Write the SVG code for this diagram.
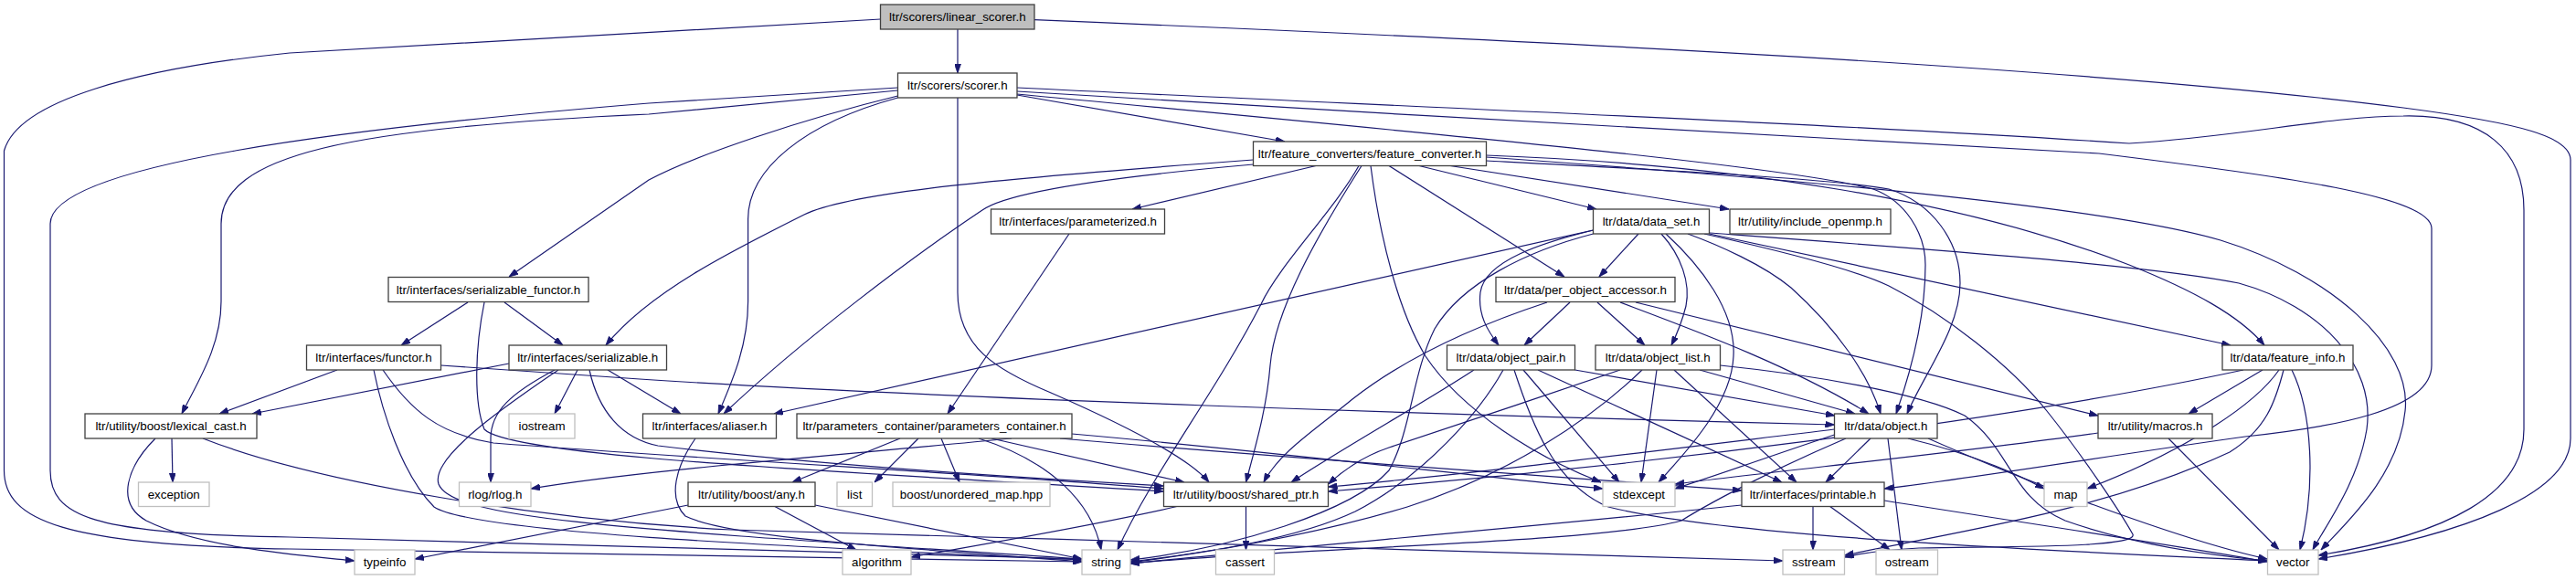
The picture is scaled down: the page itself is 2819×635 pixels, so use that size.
<svg xmlns="http://www.w3.org/2000/svg" width="2819" height="635" viewBox="0 0 2819 635">
<style>
.e path{fill:none;stroke:#191970;stroke-width:1.2;marker-end:url(#ah)}
.n rect{fill:#fff;stroke:#404040;stroke-width:1.3}
.x rect{fill:#fff;stroke:#bfbfbf;stroke-width:1.3}
.r rect{fill:#bfbfbf;stroke:#404040;stroke-width:1.3}
text{font-family:"Liberation Sans",Arial,Helvetica,sans-serif;font-size:13.33px;fill:#000;text-anchor:middle}
</style>
<defs>
<marker id="ah" viewBox="0 0 10 7" refX="10" refY="3.5" markerWidth="10" markerHeight="7" markerUnits="userSpaceOnUse" orient="auto">
<path d="M0,0 L10,3.5 L0,7 z" fill="#191970" stroke="#191970" stroke-width="0.8"/>
</marker>
</defs>
<rect width="2819" height="635" fill="#fff"/>
<g id="connectors" class="e">
<path d="M1048,32 L1048,80"/>
<path d="M963.5,21 L317,58 C150,75 20,110 4.5,165 L4.5,515 C4.5,570 70,597 317,601 L1184,615"/>
<path d="M1132,21.7 C1700,45 2300,75 2630,118 C2760,135 2813,150 2813,175 L2813,480 C2813,540 2700,585 2537,612"/>
<path d="M1113,104 L1406,155"/>
<path d="M982.5,105 C880,130 760,170 710,197 L557,303"/>
<path d="M982.5,99 L710,125 C380,140 242,170 242,245 L242,330 C242,380 215,420 199,453"/>
<path d="M982.5,96 L710,113 C380,140 55,180 55,245 L55,515 C55,565 100,585 317,588 L1184,612"/>
<path d="M982.5,107 C880,135 818.6,185 818.6,240 L818.6,330 C818.6,380 800,420 786,453"/>
<path d="M1048,107 L1048,320 C1048,380 1090,405 1150,430 C1230,465 1300,500 1323,528"/>
<path d="M1113,96 C1500,115 2000,135 2330,157 C2450,150 2550,127 2630,127 C2720,125 2762,165 2762,230 L2762,470 C2762,540 2680,585 2537,608"/>
<path d="M1113,100 C1500,125 2000,150 2297,168 C2500,193 2661,215 2661,250 L2661,400 C2661,450 2550,468 2457,478 C2300,500 2150,525 2062,535"/>
<path d="M1113,103 C1500,140 1950,180 2050,207 C2085,220 2107,255 2107,290 C2107,350 2090,410 2075,453"/>
<path d="M1626.5,176 C1800,185 2000,195 2067,207 C2115,222 2145,265 2145,310 C2145,360 2105,410 2087,453"/>
<path d="M1440,181.5 L1239,229"/>
<path d="M1553,181.5 L1747,229"/>
<path d="M1587,181.5 L1892,229"/>
<path d="M1520,181.5 L1712,303"/>
<path d="M1371.5,175 C1100,195 930,210 880,235 C800,275 710,320 663,378"/>
<path d="M1371.5,180 C1200,195 1100,212 1075,230 C1000,280 880,370 792,453"/>
<path d="M1487,181.5 C1460,230 1400,290 1380,333 C1330,430 1260,520 1223,602"/>
<path d="M1490,181.5 C1440,260 1395,340 1390,400 C1386,450 1372,495 1363.5,528"/>
<path d="M1500,181.5 C1510,260 1530,340 1560,390 C1600,450 1680,500 1752,528"/>
<path d="M1626.5,170 C1900,180 2150,220 2330,290 C2400,318 2450,345 2478,378"/>
<path d="M1626.5,172 C1950,195 2300,225 2430,263 C2550,300 2640,380 2632,450 C2625,520 2570,570 2540,602"/>
<path d="M1170,256 L1037,453"/>
<path d="M1793,256 L1750,303"/>
<path d="M1743.5,252 C1690,265 1625,285 1620,320 C1617,345 1628,362 1640,378"/>
<path d="M1743.5,256 C1670,275 1600,310 1570,360 C1545,410 1545,470 1520,515 C1480,560 1350,600 1237,613"/>
<path d="M1818,256 C1840,280 1850,310 1845,335 C1840,355 1833,370 1829,378"/>
<path d="M1823,256 C1860,290 1900,340 1897,390 C1895,440 1850,490 1815,528"/>
<path d="M1847,256 C1880,268 1930,290 1960,315 C2010,360 2045,410 2058,453"/>
<path d="M1743.5,252 L847,453"/>
<path d="M1870.5,256 L2441,378"/>
<path d="M1870.5,255 C2100,272 2350,290 2450,310 C2540,335 2600,400 2590,470 C2580,530 2545,575 2531,602"/>
<path d="M1865,256 C1950,275 2030,295 2067,313 C2130,345 2200,400 2240,450 C2280,500 2320,560 2334,585 C2340,600 2200,598 2100,600 C2060,602 2040,605 2018.5,610"/>
<path d="M1693,331 C1620,355 1540,390 1480,437 C1440,470 1400,495 1383,528"/>
<path d="M1718,331 L1668,378"/>
<path d="M1748,331 L1800,378"/>
<path d="M1773,331 C1850,360 1960,400 2045,453"/>
<path d="M1790,331 L2296,455"/>
<path d="M1613,405 C1560,440 1470,490 1413,528"/>
<path d="M1645,405 C1620,450 1560,520 1483,560 C1420,590 1320,605 1237,615"/>
<path d="M1657,405 C1675,460 1700,530 1760,555 C1900,590 2300,605 2481,614"/>
<path d="M1667,405 L1772,528"/>
<path d="M1683,405 L1950,528"/>
<path d="M1723.5,405 L2008,455"/>
<path d="M1773,405 C1700,430 1580,470 1520,490 C1490,500 1470,515 1453.5,530"/>
<path d="M1797,405 C1740,460 1650,520 1540,555 C1440,585 1320,605 1237,616"/>
<path d="M1813,405 L1796,528"/>
<path d="M1832,405 L1966,528"/>
<path d="M1860,405 L2030,453"/>
<path d="M1882.5,400 C1980,410 2100,430 2150,455 C2200,490 2200,545 2260,570 C2330,595 2420,608 2481,614"/>
<path d="M2007.5,470 C1800,495 1600,520 1453.5,533"/>
<path d="M2007.5,476 C1950,495 1880,520 1833,535"/>
<path d="M2020,480 C1950,510 1880,545 1840,570 C1750,595 1400,600 1237,617"/>
<path d="M2047,480 L1998,528"/>
<path d="M2066,480 L2081,602"/>
<path d="M2088,480 C2150,495 2200,515 2237,535"/>
<path d="M2110,480 C2200,520 2380,590 2481,612"/>
<path d="M1984,554 L1984,602"/>
<path d="M2002,554 L2068,602"/>
<path d="M1906,553 C1700,575 1400,600 1237,617"/>
<path d="M2062,548 C2200,570 2400,600 2481,615"/>
<path d="M2373,480 L2494,602"/>
<path d="M2296,474 C2150,495 1950,515 1833,530"/>
<path d="M2476,405 L2395,453"/>
<path d="M2494,405 C2470,440 2400,490 2284,535"/>
<path d="M2499,405 C2490,440 2480,470 2440,495 C2300,560 2150,580 2018.5,608"/>
<path d="M2508,405 C2530,450 2535,530 2517,602"/>
<path d="M2455,405 C2200,460 1800,510 1453.5,538"/>
<path d="M512,331 L439,378"/>
<path d="M552,331 L616,378"/>
<path d="M530,331 C520,380 518,440 530,470 C560,500 900,515 1273,538"/>
<path d="M369,405 L240,453"/>
<path d="M409,405 C418,450 440,520 475,555 C520,585 900,600 1184,613"/>
<path d="M419,405 C450,450 480,475 540,485 C800,505 1100,520 1273,535"/>
<path d="M482.5,400 L700,415 C1000,435 1600,455 2007.5,465"/>
<path d="M557,398 L276,453"/>
<path d="M607,405 C560,430 537,450 537,480 L537,528"/>
<path d="M611,405 C560,440 470,500 480,530 C495,570 700,580 1184,612"/>
<path d="M632,405 L607,453"/>
<path d="M645,405 C655,450 680,480 720,488 C900,510 1150,525 1273,532"/>
<path d="M665,405 L745,453"/>
<path d="M188,480 L189,528"/>
<path d="M170,480 C140,510 125,550 160,570 C220,600 330,608 388,614"/>
<path d="M222,480 C350,530 600,570 800,580 C1200,592 1700,605 1951,614"/>
<path d="M761,480 C740,510 730,545 750,565 C800,590 1000,600 1184,615"/>
<path d="M1107,480 C900,500 700,515 581,535"/>
<path d="M985,480 L867,528"/>
<path d="M1005,480 L957,528"/>
<path d="M1030,480 L1050,528"/>
<path d="M1085,480 L1296,528"/>
<path d="M1071,480 C1150,505 1195,550 1205,602"/>
<path d="M1173,475 C1400,495 1600,520 1754,535"/>
<path d="M1160,480 C1450,505 1750,525 1906,537"/>
<path d="M847,554 L937,602"/>
<path d="M892,553 L1184,612"/>
<path d="M753,553 L454,612"/>
<path d="M1363.5,554 L1363.5,602"/>
<path d="M1290,554 C1200,575 1080,595 997,610"/>
</g>
<g id="linear_scorer" class="r"><rect x="963.5" y="5" width="168.5" height="27"/><text x="1047.8" y="23">ltr/scorers/linear_scorer.h</text></g>
<g id="scorer" class="n"><rect x="982.5" y="80" width="130.5" height="27"/><text x="1047.8" y="98">ltr/scorers/scorer.h</text></g>
<g id="feature_converter" class="n"><rect x="1371.5" y="155" width="255" height="26.5"/><text x="1499" y="173">ltr/feature_converters/feature_converter.h</text></g>
<g id="parameterized" class="n"><rect x="1084.5" y="229" width="190" height="27"/><text x="1179.5" y="247">ltr/interfaces/parameterized.h</text></g>
<g id="data_set" class="n"><rect x="1743.5" y="229" width="127" height="27"/><text x="1807" y="247">ltr/data/data_set.h</text></g>
<g id="include_openmp" class="n"><rect x="1893" y="229" width="176" height="27"/><text x="1981" y="247">ltr/utility/include_openmp.h</text></g>
<g id="serializable_functor" class="n"><rect x="425" y="303.5" width="219" height="27"/><text x="534.5" y="321.5">ltr/interfaces/serializable_functor.h</text></g>
<g id="per_object_accessor" class="n"><rect x="1637" y="303.5" width="196" height="27"/><text x="1735" y="321.5">ltr/data/per_object_accessor.h</text></g>
<g id="functor" class="n"><rect x="335.5" y="378" width="147" height="27"/><text x="409" y="396">ltr/interfaces/functor.h</text></g>
<g id="serializable" class="n"><rect x="557" y="378" width="172.5" height="27"/><text x="643.2" y="396">ltr/interfaces/serializable.h</text></g>
<g id="object_pair" class="n"><rect x="1583.5" y="378" width="140" height="27"/><text x="1653.5" y="396">ltr/data/object_pair.h</text></g>
<g id="object_list" class="n"><rect x="1746" y="378" width="136.5" height="27"/><text x="1814.2" y="396">ltr/data/object_list.h</text></g>
<g id="feature_info" class="n"><rect x="2432" y="378" width="143" height="27"/><text x="2503.5" y="396">ltr/data/feature_info.h</text></g>
<g id="lexical_cast" class="n"><rect x="93" y="453" width="188" height="27"/><text x="187" y="471">ltr/utility/boost/lexical_cast.h</text></g>
<g id="iostream" class="x"><rect x="557" y="453" width="72" height="27"/><text x="593" y="471">iostream</text></g>
<g id="aliaser" class="n"><rect x="703.5" y="453" width="146" height="27"/><text x="776.5" y="471">ltr/interfaces/aliaser.h</text></g>
<g id="parameters_container" class="n"><rect x="872" y="453" width="301" height="27"/><text x="1022.5" y="471">ltr/parameters_container/parameters_container.h</text></g>
<g id="object" class="n"><rect x="2007.5" y="453" width="112.5" height="27"/><text x="2063.8" y="471">ltr/data/object.h</text></g>
<g id="macros" class="n"><rect x="2296" y="453" width="125" height="27"/><text x="2358.5" y="471">ltr/utility/macros.h</text></g>
<g id="exception" class="x"><rect x="151.5" y="528" width="77.5" height="26.5"/><text x="190.2" y="546">exception</text></g>
<g id="rlog" class="x"><rect x="502.5" y="528" width="78.5" height="26.5"/><text x="541.8" y="546">rlog/rlog.h</text></g>
<g id="any" class="n"><rect x="753" y="528" width="139" height="26.5"/><text x="822.5" y="546">ltr/utility/boost/any.h</text></g>
<g id="list" class="x"><rect x="916" y="528" width="38.5" height="26.5"/><text x="935.2" y="546">list</text></g>
<g id="unordered_map" class="x"><rect x="977" y="528" width="172" height="26.5"/><text x="1063" y="546">boost/unordered_map.hpp</text></g>
<g id="shared_ptr" class="n"><rect x="1273.5" y="528" width="180" height="26.5"/><text x="1363.5" y="546">ltr/utility/boost/shared_ptr.h</text></g>
<g id="stdexcept" class="x"><rect x="1754" y="528" width="79" height="26.5"/><text x="1793.5" y="546">stdexcept</text></g>
<g id="printable" class="n"><rect x="1906" y="528" width="156" height="26.5"/><text x="1984" y="546">ltr/interfaces/printable.h</text></g>
<g id="map" class="x"><rect x="2237" y="528" width="47" height="26.5"/><text x="2260.5" y="546">map</text></g>
<g id="typeinfo" class="x"><rect x="388" y="602" width="66" height="27"/><text x="421" y="620">typeinfo</text></g>
<g id="algorithm" class="x"><rect x="922" y="602" width="75" height="27"/><text x="959.5" y="620">algorithm</text></g>
<g id="string" class="x"><rect x="1184" y="602" width="53" height="27"/><text x="1210.5" y="620">string</text></g>
<g id="cassert" class="x"><rect x="1330.5" y="602" width="64" height="27"/><text x="1362.5" y="620">cassert</text></g>
<g id="sstream" class="x"><rect x="1951" y="602" width="67.5" height="27"/><text x="1984.8" y="620">sstream</text></g>
<g id="ostream" class="x"><rect x="2053" y="602" width="67.5" height="27"/><text x="2086.8" y="620">ostream</text></g>
<g id="vector" class="x"><rect x="2481.5" y="602" width="55.5" height="27"/><text x="2509.2" y="620">vector</text></g>
</svg>
